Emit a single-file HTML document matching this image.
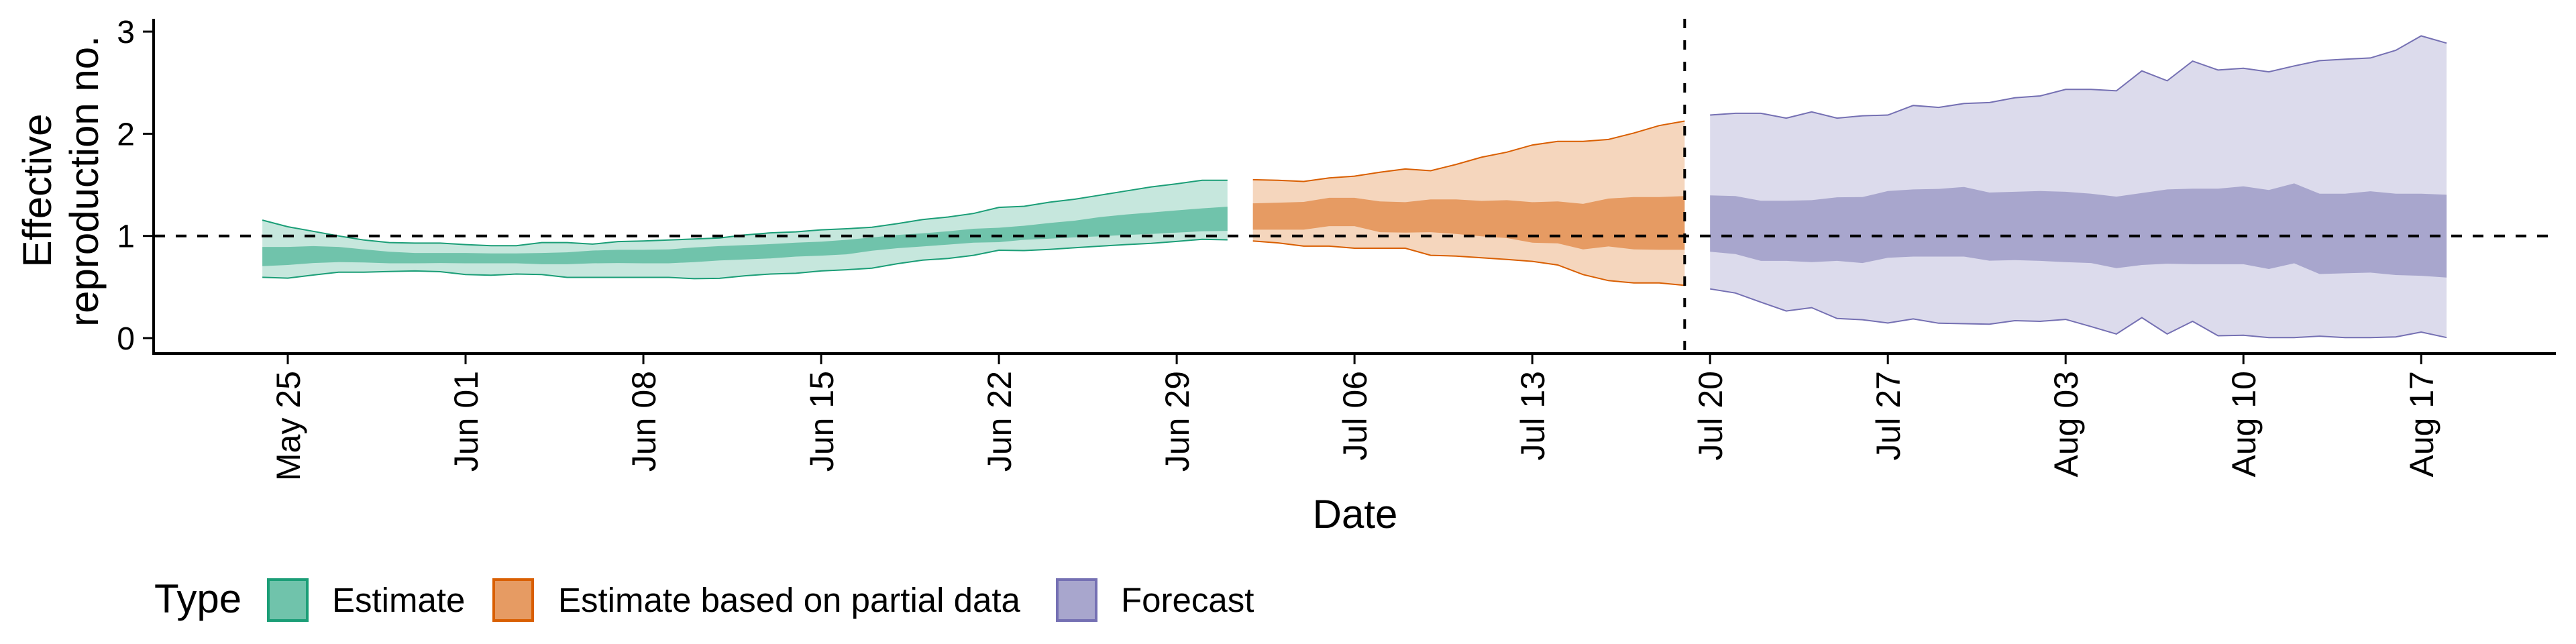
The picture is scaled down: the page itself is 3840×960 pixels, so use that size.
<!DOCTYPE html>
<html><head><meta charset="utf-8"><style>
html,body{margin:0;padding:0;background:#fff;}
svg{display:block;font-family:"Liberation Sans",sans-serif;}
</style></head><body>
<svg id="chart" width="3840" height="960" viewBox="0 0 3840 960">
<g id="bands"></g>
<g id="axes"></g>
</svg>
<script>
const tickLabels = ["May 25","Jun 01","Jun 08","Jun 15","Jun 22","Jun 29","Jul 06","Jul 13","Jul 20","Jul 27","Aug 03","Aug 10","Aug 17"];
const tickDays = [0,7,14,21,28,35,42,49,56,63,70,77,84];
const yTicks = [0,1,2,3];
const estDays = [-1,0,1,2,3,4,5,6,7,8,9,10,11,12,13,14,15,16,17,18,19,20,21,22,23,24,25,26,27,28,29,30,31,32,33,34,35,36,37];
const estUpper90 = [1.155,1.09,1.045,1.0,0.96,0.935,0.93,0.93,0.915,0.905,0.905,0.935,0.935,0.92,0.945,0.95,0.96,0.97,0.98,1.01,1.03,1.04,1.06,1.07,1.085,1.12,1.16,1.185,1.22,1.28,1.29,1.33,1.36,1.40,1.44,1.48,1.51,1.545,1.545];
const estLower90 = [0.595,0.587,0.617,0.645,0.645,0.652,0.657,0.65,0.622,0.615,0.627,0.622,0.594,0.594,0.594,0.594,0.594,0.582,0.585,0.61,0.627,0.634,0.657,0.669,0.685,0.728,0.763,0.78,0.81,0.86,0.857,0.869,0.885,0.9,0.915,0.927,0.946,0.967,0.962];
const estUpper50 = [0.892,0.892,0.9,0.892,0.869,0.845,0.833,0.833,0.833,0.829,0.829,0.833,0.84,0.857,0.864,0.864,0.869,0.887,0.9,0.91,0.92,0.934,0.944,0.962,0.985,1.01,1.026,1.045,1.07,1.08,1.10,1.127,1.15,1.185,1.21,1.23,1.25,1.27,1.286];
const estLower50 = [0.704,0.716,0.735,0.744,0.74,0.732,0.732,0.735,0.732,0.732,0.732,0.723,0.723,0.732,0.735,0.732,0.732,0.744,0.76,0.77,0.78,0.798,0.807,0.82,0.855,0.88,0.897,0.915,0.934,0.939,0.962,0.974,0.986,0.997,1.01,1.02,1.033,1.045,1.05];
const partDays = [38,39,40,41,42,43,44,45,46,47,48,49,50,51,52,53,54,55];
const partUpper90 = [1.55,1.545,1.533,1.568,1.585,1.624,1.655,1.638,1.70,1.77,1.82,1.89,1.925,1.925,1.944,2.007,2.08,2.124];
const partLower90 = [0.951,0.932,0.9,0.9,0.88,0.88,0.88,0.81,0.803,0.786,0.77,0.751,0.716,0.622,0.563,0.54,0.54,0.516];
const partUpper50 = [1.319,1.326,1.333,1.373,1.373,1.338,1.33,1.357,1.357,1.343,1.35,1.33,1.338,1.314,1.366,1.38,1.38,1.39];
const partLower50 = [1.061,1.061,1.061,1.096,1.096,1.037,1.033,1.037,1.02,0.997,0.979,0.934,0.927,0.869,0.897,0.869,0.864,0.864];
const fcDays = [56,57,58,59,60,61,62,63,64,65,66,67,68,69,70,71,72,73,74,75,76,77,78,79,80,81,82,83,84,85];
const fcUpper90 = [2.183,2.2,2.2,2.153,2.214,2.153,2.176,2.183,2.277,2.258,2.296,2.305,2.352,2.37,2.434,2.434,2.42,2.615,2.519,2.711,2.624,2.641,2.606,2.664,2.716,2.73,2.742,2.817,2.958,2.887];
const fcLower90 = [0.481,0.441,0.352,0.265,0.298,0.192,0.18,0.148,0.188,0.146,0.141,0.136,0.171,0.164,0.183,0.113,0.04,0.2,0.04,0.164,0.023,0.028,0.005,0.005,0.019,0.005,0.005,0.012,0.059,0.005];
const fcUpper50 = [1.397,1.39,1.345,1.345,1.35,1.378,1.38,1.439,1.455,1.46,1.479,1.425,1.432,1.439,1.432,1.413,1.385,1.42,1.455,1.462,1.462,1.486,1.45,1.514,1.413,1.413,1.437,1.413,1.413,1.404];
const fcLower50 = [0.845,0.822,0.756,0.756,0.744,0.756,0.735,0.786,0.798,0.798,0.798,0.758,0.763,0.756,0.744,0.735,0.685,0.716,0.728,0.723,0.723,0.723,0.676,0.732,0.627,0.634,0.641,0.617,0.61,0.592];
const legendLabels = ["Estimate","Estimate based on partial data","Forecast"];
const forecastStartDay = 55;

const NS = "http://www.w3.org/2000/svg";
const X0 = 429, PX_DAY = 37.86, Y0 = 504, PX_UNIT = 152.3;
const xs = d => X0 + PX_DAY * d;
const ys = v => Y0 - PX_UNIT * v;
function mk(tag, attrs, parent) {
  const e = document.createElementNS(NS, tag);
  for (const k in attrs) e.setAttribute(k, attrs[k]);
  parent.appendChild(e);
  return e;
}
const bands = document.getElementById('bands');
const axes = document.getElementById('axes');

function area(days, up, lo) {
  let p = days.map((d, i) => (i ? 'L' : 'M') + xs(d).toFixed(1) + ',' + ys(up[i]).toFixed(1)).join('');
  for (let i = days.length - 1; i >= 0; i--) p += 'L' + xs(days[i]).toFixed(1) + ',' + ys(lo[i]).toFixed(1);
  return p + 'Z';
}
function line(days, vals) {
  return days.map((d, i) => (i ? 'L' : 'M') + xs(d).toFixed(1) + ',' + ys(vals[i]).toFixed(1)).join('');
}
const series = [
  ['estimate', estDays, estUpper90, estLower90, estUpper50, estLower50, '#c6e7dd', '#70c3ab', '#1b9e77'],
  ['partial', partDays, partUpper90, partLower90, partUpper50, partLower50, '#f5d6bd', '#e69b63', '#d95f02'],
  ['forecast', fcDays, fcUpper90, fcLower90, fcUpper50, fcLower50, '#dcdbec', '#a8a6cd', '#7570b3']
];
series.forEach(s => {
  const [nm, d, u9, l9, u5, l5, c1, c2, c3] = s;
  let e = mk('path', {d: area(d, u9, l9), fill: c1}, bands);
  
  
  e = mk('path', {d: area(d, u5, l5), fill: c2}, bands);
  
  
  e = mk('path', {d: line(d, u9), fill: 'none', stroke: c3, 'stroke-width': 2}, bands);
  
  
  e = mk('path', {d: line(d, l9), fill: 'none', stroke: c3, 'stroke-width': 2}, bands);
  
  
});

let e = mk('line', {x1: 230, x2: 3809, y1: ys(1), y2: ys(1), stroke: '#000', 'stroke-width': 4, 'stroke-dasharray': '16 16'}, axes);


e = mk('line', {x1: xs(forecastStartDay), x2: xs(forecastStartDay), y1: 28, y2: 526, stroke: '#000', 'stroke-width': 4, 'stroke-dasharray': '14 18'}, axes);



e = mk('line', {x1: 229, x2: 229, y1: 28, y2: 529, stroke: '#000', 'stroke-width': 4}, axes);


e = mk('line', {x1: 227, x2: 3810, y1: 527, y2: 527, stroke: '#000', 'stroke-width': 4}, axes);



yTicks.forEach(v => {
  let t = mk('line', {x1: 213, x2: 229, y1: ys(v), y2: ys(v), stroke: '#000', 'stroke-width': 3}, axes);
  
  
  t = mk('text', {x: 201, y: ys(v) + 17, 'text-anchor': 'end', 'font-size': 48, fill: '#000'}, axes);
  t.textContent = String(v);
  
  
});
tickDays.forEach((d, i) => {
  const x = xs(d);
  let t = mk('line', {x1: x, x2: x, y1: 527, y2: 543, stroke: '#000', 'stroke-width': 3}, axes);
  
  
  t = mk('text', {transform: 'translate(' + (x + 18) + ',553) rotate(-90)', 'text-anchor': 'end', 'font-size': 50, fill: '#000'}, axes);
  t.textContent = tickLabels[i];
  
  
});

e = mk('text', {x: 2020, y: 787, 'text-anchor': 'middle', 'font-size': 60, fill: '#000'}, axes);
e.textContent = 'Date';


e = mk('text', {transform: 'translate(76,284) rotate(-90)', 'text-anchor': 'middle', 'font-size': 60, fill: '#000'}, axes);
e.textContent = 'Effective';


e = mk('text', {transform: 'translate(146,270) rotate(-90)', 'text-anchor': 'middle', 'font-size': 60, fill: '#000'}, axes);
e.textContent = 'reproduction no.';



e = mk('text', {x: 230, y: 913, 'font-size': 60, fill: '#000'}, axes);
e.textContent = 'Type';


const keyX = [398, 734, 1574];
const textX = [495, 832, 1671];
legendLabels.forEach((lab, i) => {
  const s = series[i];
  let r = mk('rect', {x: keyX[i] + 2, y: 864, width: 58, height: 61, fill: s[7], stroke: s[8], 'stroke-width': 4}, axes);
  
  
  let t = mk('text', {x: textX[i], y: 912, 'font-size': 51, fill: '#000'}, axes);
  t.textContent = lab;
  
  
});
</script>
</body></html>
